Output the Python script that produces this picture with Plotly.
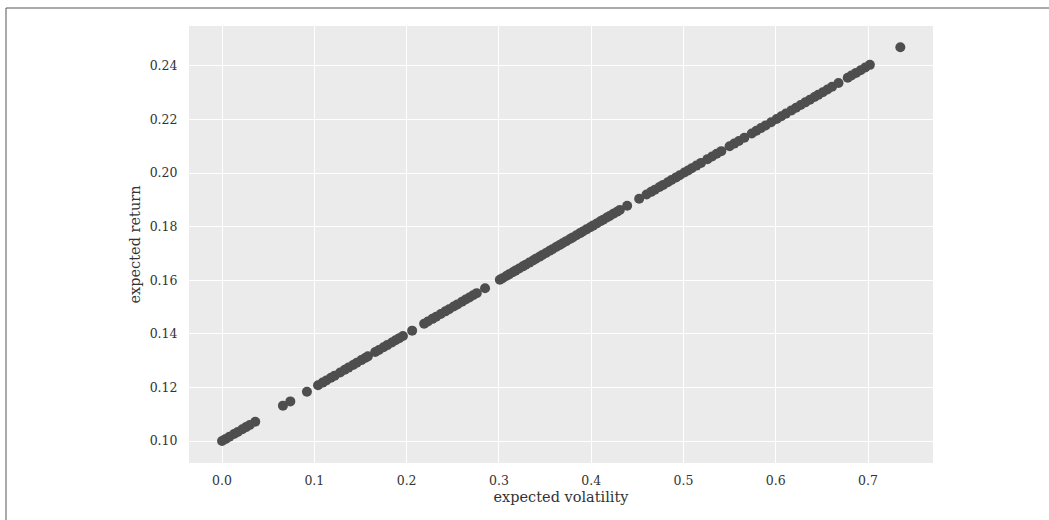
import plotly.graph_objects as go

# expected volatility values
volatility = [
    0.000, 0.004, 0.008, 0.013, 0.017, 0.022, 0.026, 0.030, 0.036,
    0.066, 0.074,
    0.092,
    0.104, 0.109, 0.113, 0.118, 0.122,
    0.128, 0.133, 0.137, 0.142, 0.146, 0.151, 0.155, 0.158,
    0.166, 0.170, 0.175, 0.179, 0.184, 0.188, 0.192, 0.196,
    0.206,
    0.219, 0.223, 0.228, 0.232, 0.237, 0.242, 0.246,
    0.251, 0.255, 0.260, 0.264, 0.268, 0.272, 0.276,
    0.285,
    0.301, 0.304, 0.308, 0.311, 0.315, 0.318, 0.322, 0.326, 0.329, 0.333,
    0.337, 0.340, 0.344, 0.347, 0.351, 0.355, 0.358, 0.362, 0.366, 0.369,
    0.373, 0.377, 0.380, 0.384, 0.388, 0.391, 0.395, 0.399, 0.402, 0.406,
    0.410, 0.413, 0.417, 0.420, 0.424, 0.428, 0.431,
    0.439,
    0.452,
    0.460, 0.465, 0.469, 0.474, 0.478, 0.483, 0.487, 0.492, 0.496, 0.501,
    0.505, 0.509, 0.514, 0.519,
    0.526, 0.531, 0.536, 0.541,
    0.550, 0.555, 0.560, 0.566,
    0.574, 0.579, 0.584, 0.589, 0.595,
    0.601, 0.606, 0.611, 0.617, 0.622, 0.627,
    0.632, 0.637, 0.642, 0.646, 0.651, 0.656, 0.661,
    0.668,
    0.678, 0.682, 0.687, 0.692, 0.697, 0.702,
    0.735,
]

# expected return values
expected_return = [
    0.1000, 0.1008, 0.1016, 0.1026, 0.1034, 0.1044, 0.1052, 0.1060, 0.1072,
    0.1132, 0.1148,
    0.1184,
    0.1208, 0.1218, 0.1226, 0.1236, 0.1244,
    0.1256, 0.1266, 0.1274, 0.1284, 0.1292, 0.1302, 0.1310, 0.1316,
    0.1332, 0.1340, 0.1350, 0.1358, 0.1368, 0.1376, 0.1384, 0.1392,
    0.1412,
    0.1438, 0.1446, 0.1456, 0.1464, 0.1474, 0.1484, 0.1492,
    0.1502, 0.1510, 0.1520, 0.1528, 0.1536, 0.1544, 0.1552,
    0.1570,
    0.1602, 0.1608, 0.1616, 0.1622, 0.1630, 0.1636, 0.1644, 0.1652, 0.1658, 0.1666,
    0.1674, 0.1680, 0.1688, 0.1694, 0.1702, 0.1710, 0.1716, 0.1724, 0.1732, 0.1738,
    0.1746, 0.1754, 0.1760, 0.1768, 0.1776, 0.1782, 0.1790, 0.1798, 0.1804, 0.1812,
    0.1820, 0.1826, 0.1834, 0.1840, 0.1848, 0.1856, 0.1862,
    0.1878,
    0.1904,
    0.1920, 0.1930, 0.1938, 0.1948, 0.1956, 0.1966, 0.1974, 0.1984, 0.1992, 0.2002,
    0.2010, 0.2018, 0.2028, 0.2038,
    0.2052, 0.2062, 0.2072, 0.2082,
    0.2100, 0.2110, 0.2120, 0.2132,
    0.2148, 0.2158, 0.2168, 0.2178, 0.2190,
    0.2202, 0.2212, 0.2222, 0.2234, 0.2244, 0.2254,
    0.2264, 0.2274, 0.2284, 0.2292, 0.2302, 0.2312, 0.2322,
    0.2336,
    0.2356, 0.2364, 0.2374, 0.2384, 0.2394, 0.2404,
    0.2470,
]

x_ticks = [0.0, 0.1, 0.2, 0.3, 0.4, 0.5, 0.6, 0.7]
x_tick_labels = ["0.0", "0.1", "0.2", "0.3", "0.4", "0.5", "0.6", "0.7"]
y_ticks = [0.10, 0.12, 0.14, 0.16, 0.18, 0.20, 0.22, 0.24]
y_tick_labels = ["0.10", "0.12", "0.14", "0.16", "0.18", "0.20", "0.22", "0.24"]

FONT = "DejaVu Serif"

fig = go.Figure()
fig.add_trace(go.Scatter(
    x=volatility, y=expected_return, mode="markers",
    marker=dict(size=10, color="#4e4e4e", line=dict(width=0)),
    showlegend=False,
))

fig.update_layout(
    width=1049, height=520,
    margin=dict(l=189, r=116, t=26, b=57, autoexpand=False),
    paper_bgcolor="white",
    plot_bgcolor="#ebebeb",
    font=dict(family=FONT, size=12.5, color="#333333"),
    xaxis=dict(
        range=[-0.0358, 0.7704],
        tickvals=x_ticks, ticktext=x_tick_labels,
        showgrid=True, gridcolor="white", gridwidth=1.3,
        zeroline=False, showline=False,
        ticks="outside", ticklen=6, tickcolor="rgba(0,0,0,0)",
        title=dict(text="expected volatility", font=dict(size=14.5, family=FONT, color="#333333"), standoff=4),
        automargin=False,
    ),
    yaxis=dict(
        range=[0.0918, 0.2549],
        tickvals=y_ticks, ticktext=y_tick_labels,
        showgrid=True, gridcolor="white", gridwidth=1.3,
        zeroline=False, showline=False,
        ticks="outside", ticklen=8, tickcolor="rgba(0,0,0,0)",
        title=dict(text="expected return", font=dict(size=14.5, family=FONT, color="#333333"), standoff=5),
        automargin=False,
    ),
    shapes=[
        dict(type="line", xref="paper", yref="paper",
             x0=(6 - 189) / 744, x1=(1049 - 189) / 744,
             y0=(463 - 8) / 437, y1=(463 - 8) / 437,
             line=dict(color="#555555", width=1)),
        dict(type="line", xref="paper", yref="paper",
             x0=(6 - 189) / 744, x1=(6 - 189) / 744,
             y0=(463 - 8) / 437, y1=(463 - 520) / 437,
             line=dict(color="#555555", width=1)),
    ],
)

fig.write_html("out.html")
